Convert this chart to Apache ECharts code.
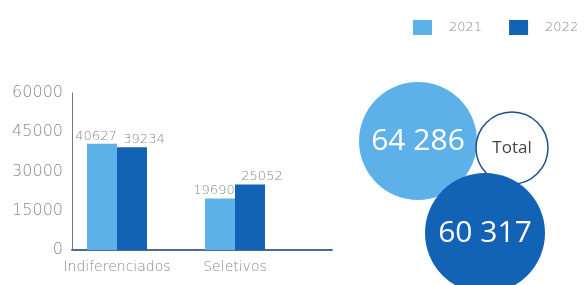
<!DOCTYPE html>
<html>
<head>
<meta charset="utf-8">
<script src="https://cdn.jsdelivr.net/npm/echarts@6/dist/echarts.min.js"></script>
<style>
  html, body { margin: 0; padding: 0; background: #fff; }
  #chart { width: 584px; height: 285px; }
</style>
</head>
<body>
<div id="chart"></div>
<script>
// dados
var categories = ['Indiferenciados', 'Seletivos'];
var years = ['2021', '2022'];
var values2021 = [40627, 19690];
var values2022 = [39234, 25052];
var totals = [64286, 60317];
var totalLabel = 'Total';
var yMax = 60000;
var yStep = 15000;

var lightBlue = '#5eb1e8';
var darkBlue = '#1262b5';
var greyText = { color: '#888', fontFamily: 'DejaVu Sans', fontWeight: 300 };

function fmtSpace(v) {
  return String(v).replace(/\B(?=(\d{3})+(?!\d))/g, ' ');
}

var chart = echarts.init(document.getElementById('chart'));

var option = {
  backgroundColor: '#fff',
  animation: false,
  legend: {
    data: years,
    left: 413,
    top: 20,
    padding: 0,
    icon: 'rect',
    itemWidth: 19,
    itemHeight: 15,
    itemGap: 27,
    textStyle: Object.assign({ fontSize: 13, padding: [0, 0, 0, 12] }, greyText)
  },
  grid: [
    // moldura dos eixos
    { left: 72, top: 93, width: 260, height: 157 },
    // barras
    { left: 58, top: 93, width: 236, height: 157 }
  ],
  xAxis: [
    {
      gridIndex: 0, type: 'value', min: 0, max: 1,
      axisLine: { show: true, lineStyle: { color: '#4d6a90', width: 2 } },
      axisTick: { show: false }, axisLabel: { show: false }, splitLine: { show: false }
    },
    {
      gridIndex: 1, type: 'category', data: categories,
      axisLine: { show: false }, axisTick: { show: false },
      axisLabel: Object.assign({ fontSize: 14, margin: 10, interval: 0 }, greyText)
    }
  ],
  yAxis: [
    {
      gridIndex: 0, type: 'value', min: 0, max: yMax, interval: yStep,
      axisLine: { show: true, lineStyle: { color: '#777', width: 1 } },
      axisTick: { show: false },
      axisLabel: Object.assign({ fontSize: 16, margin: 9, formatter: function (v) { return String(v); } }, greyText),
      splitLine: { show: false }
    },
    {
      gridIndex: 1, type: 'value', min: 0, max: yMax, show: false
    }
  ],
  series: [
    {
      name: years[0], type: 'bar', xAxisIndex: 1, yAxisIndex: 1,
      data: values2021, barWidth: 30, barGap: '0%',
      itemStyle: { color: lightBlue },
      label: Object.assign({ show: true, position: 'top', distance: 1, offset: [-6, 0], fontSize: 13 }, greyText)
    },
    {
      name: years[1], type: 'bar', xAxisIndex: 1, yAxisIndex: 1,
      data: values2022, barWidth: 30,
      itemStyle: { color: darkBlue },
      label: Object.assign({ show: true, position: 'top', distance: 1, offset: [12, 0], fontSize: 13 }, greyText)
    },
    {
      type: 'pie', silent: true, center: [418, 141], radius: [0, 59],
      data: [{ name: years[0], value: totals[0] }],
      itemStyle: { color: lightBlue },
      label: { show: true, position: 'center', formatter: function (p) { return fmtSpace(p.value); },
        color: '#fff', fontSize: 30, fontFamily: 'Open Sans' },
      labelLine: { show: false }
    },
    {
      type: 'pie', silent: true, center: [512, 148], radius: [0, 36],
      data: [{ name: totalLabel, value: 1 }],
      itemStyle: { color: '#fff', borderColor: '#1d4f8e', borderWidth: 1.5 },
      label: { show: true, position: 'center', formatter: totalLabel,
        color: '#444', fontSize: 17, fontFamily: 'Open Sans' },
      labelLine: { show: false }
    },
    {
      type: 'pie', silent: true, center: [485, 233], radius: [0, 60],
      data: [{ name: years[1], value: totals[1] }],
      itemStyle: { color: darkBlue },
      label: { show: true, position: 'center', formatter: function (p) { return fmtSpace(p.value); },
        color: '#fff', fontSize: 30, fontFamily: 'Open Sans' },
      labelLine: { show: false }
    }
  ]
};

chart.setOption(option);
</script>
</body>
</html>
